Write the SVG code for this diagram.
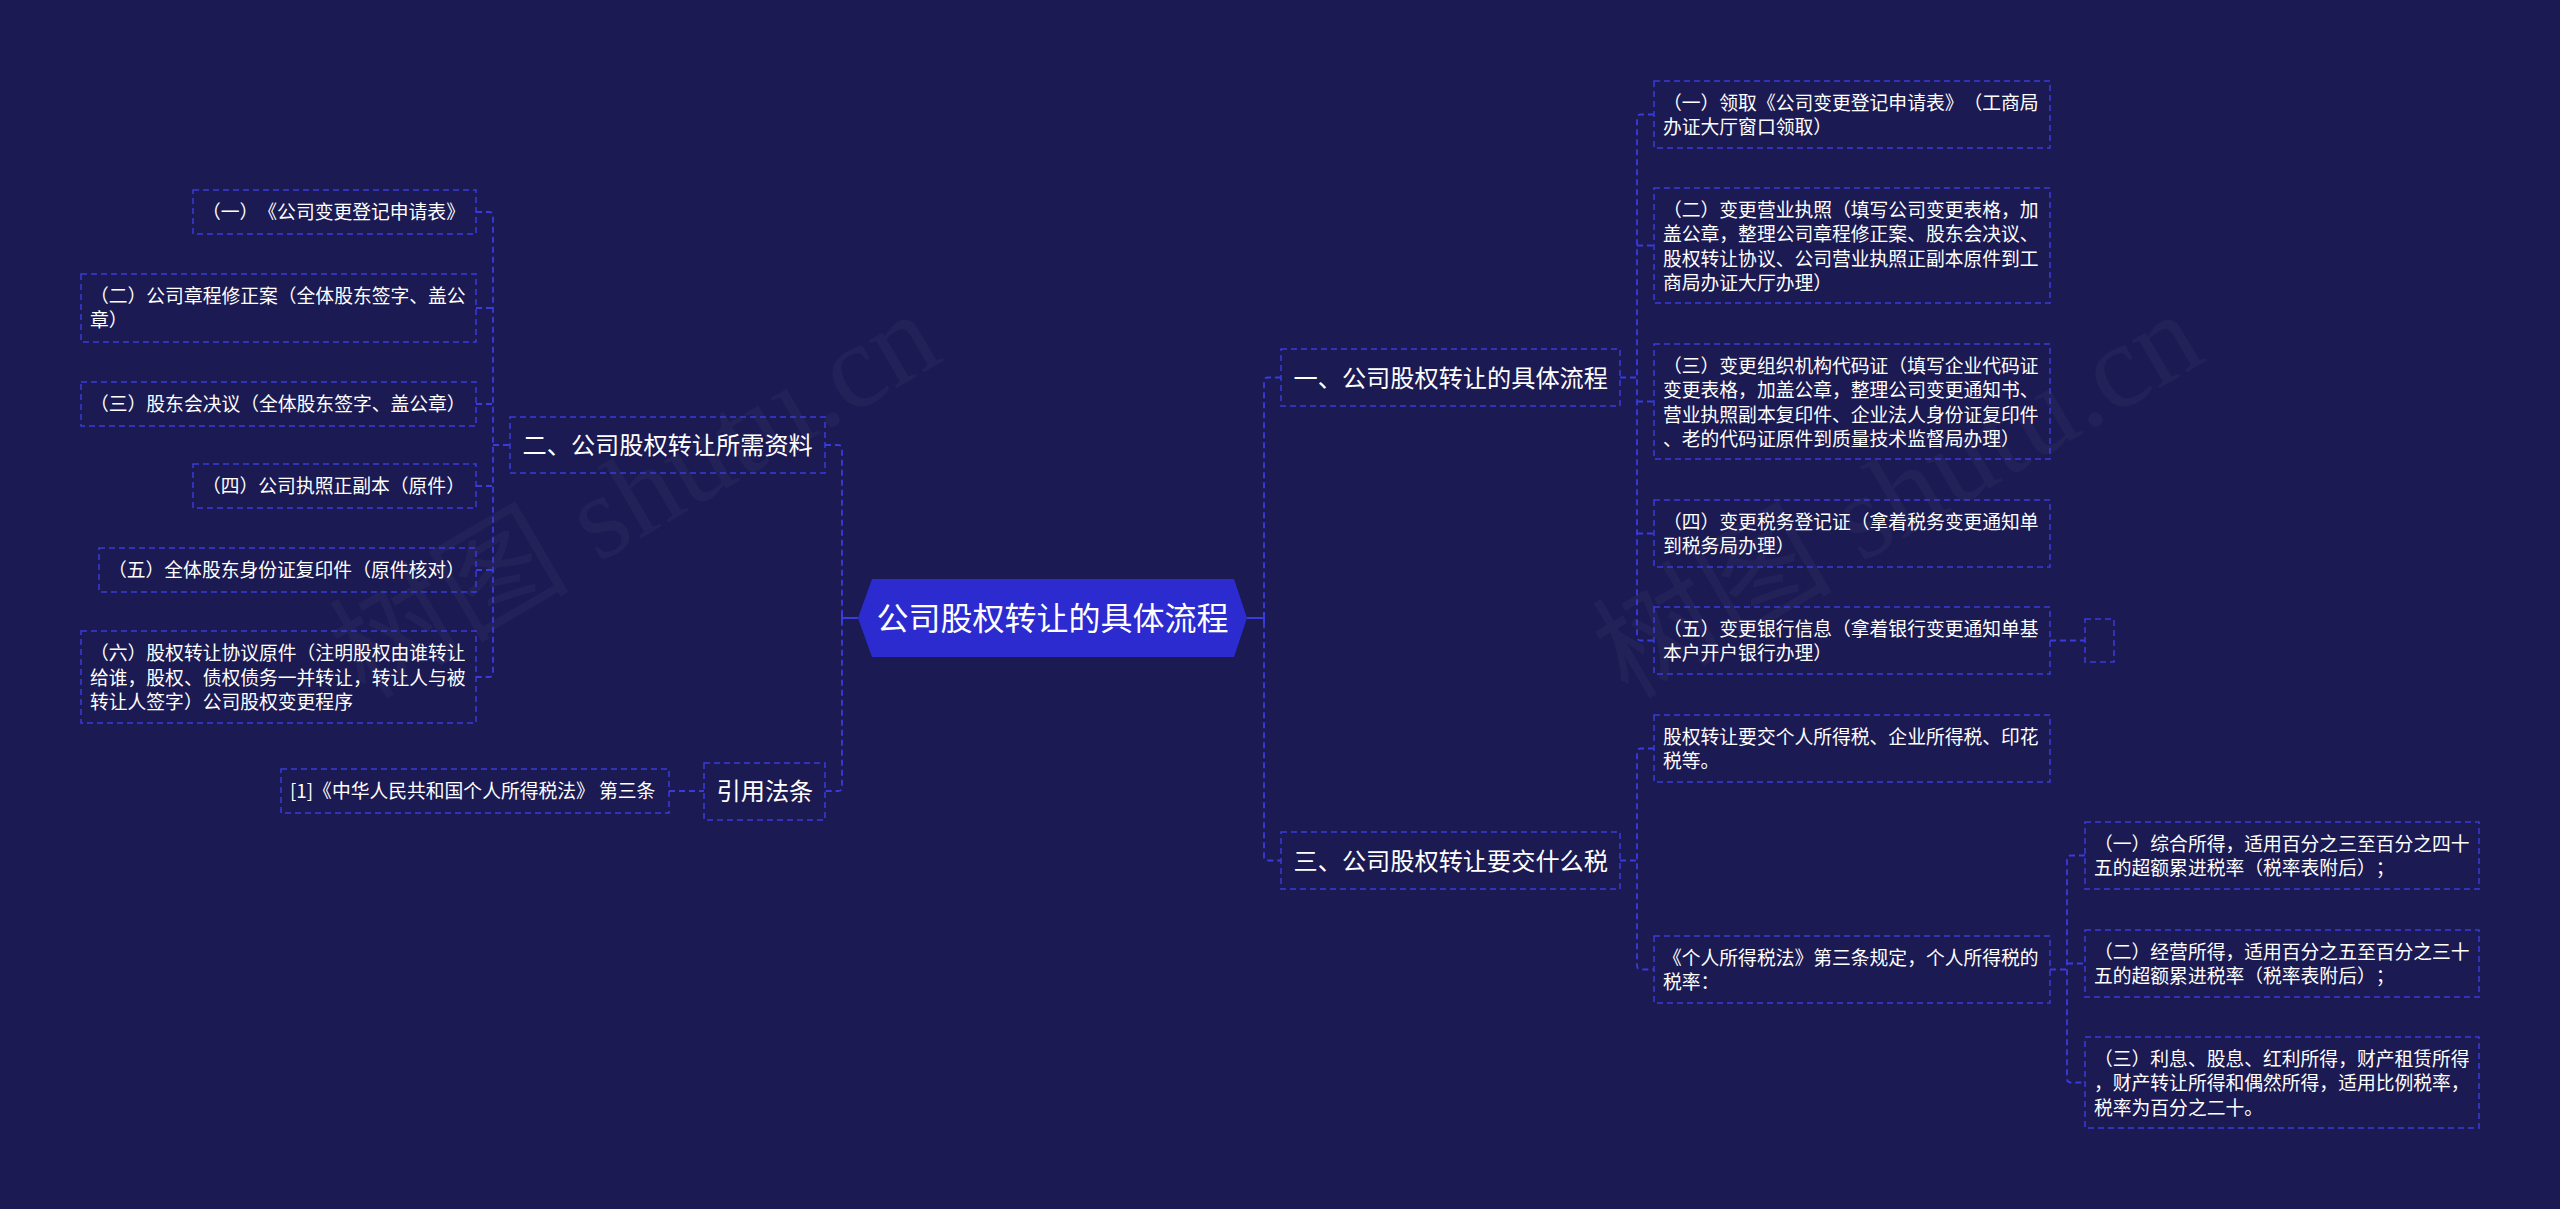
<svg xmlns="http://www.w3.org/2000/svg" width="2560" height="1209" viewBox="0 0 2560 1209">
<defs>
<style>
.bg{fill:#1b1a52}
.box{fill:none;stroke:#3b3bdc;stroke-width:1.5;stroke-dasharray:6 4}
.ln{fill:none;stroke:#3b3bdc;stroke-width:1.8;stroke-dasharray:6 4}
.sl{fill:none;stroke:#3b3bdc;stroke-width:2}
text{text-spacing-trim:space-all;font-feature-settings:"chws" 0,"halt" 0,"palt" 0}
.t{font-family:"Noto Sans CJK SC","Noto Sans",sans-serif;font-size:18.8px;fill:#ffffff}
.m{font-family:"Noto Sans CJK SC","Noto Sans",sans-serif;font-size:24.2px;fill:#ffffff}
.r{font-family:"Noto Sans CJK SC","Noto Sans",sans-serif;font-size:32px;fill:#ffffff}
.wm{font-family:"Liberation Serif","Noto Sans CJK SC",serif;font-size:120px;fill:#ffffff;fill-opacity:0.04}
</style>
</defs>
<rect class="bg" x="0" y="0" width="2560" height="1209"/>
<g id="watermark">
<text class="wm" transform="translate(365,700) rotate(-30.4)">树图 shutu.cn</text>
<text class="wm" transform="translate(1628,700) rotate(-30.4)">树图 shutu.cn</text>
</g>
<g id="connectors">
<path class="ln" d="M476,212 H489 Q493,212 493,216 V673 Q493,677 489,677 H476"/>
<path class="ln" d="M476,308 H493 M476,404 H493 M476,486 H493 M476,570 H493 M493,445 H510"/>
<path class="ln" d="M825,445 H838 Q842,445 842,449 V787 Q842,791 838,791 H825"/>
<path class="ln" d="M669,791 H704"/>
<path class="sl" d="M842,618 H858 M842,612 V624"/>
<path class="ln" d="M1281,377.5 H1268 Q1264,377.5 1264,381.5 V856.5 Q1264,860.5 1268,860.5 H1281"/>
<path class="sl" d="M1247,618 H1264 M1264,612 V624"/>
<path class="ln" d="M1654,114.5 H1641 Q1637,114.5 1637,118.5 V636.5 Q1637,640.5 1641,640.5 H1654"/>
<path class="ln" d="M1637,245.5 H1654 M1637,401.5 H1654 M1637,533.5 H1654 M1620,377.5 H1637"/>
<path class="ln" d="M2050,640.5 H2085"/>
<path class="ln" d="M1654,748.5 H1641 Q1637,748.5 1637,752.5 V965.5 Q1637,969.5 1641,969.5 H1654"/>
<path class="ln" d="M1620,860.5 H1637"/>
<path class="ln" d="M2085,855.5 H2071 Q2067,855.5 2067,859.5 V1078.5 Q2067,1082.5 2071,1082.5 H2085"/>
<path class="ln" d="M2067,963.5 H2085 M2050,969.5 H2067"/>
</g>
<g id="root">
<polygon points="858,618 872,579 1234,579 1247,618 1234,657 872,657" fill="#2b2bd0"/>
<text class="r" x="1052.5" y="630" text-anchor="middle">公司股权转让的具体流程</text>
</g>
<g id="n2">
<rect class="box" x="510" y="417" width="315" height="56"/>
<text class="m" x="522.5" y="454">二、公司股权转让所需资料</text>
</g>
<g id="n2-1">
<rect class="box" x="193" y="190" width="283" height="44"/>
<text class="t" x="202" y="219">（一）《公司变更登记申请表》</text>
</g>
<g id="n2-2">
<rect class="box" x="81" y="274" width="395" height="68"/>
<text class="t" x="90" y="303">（二）公司章程修正案（全体股东签字、盖公</text>
<text class="t" x="90" y="327">章）</text>
</g>
<g id="n2-3">
<rect class="box" x="81" y="382" width="395" height="44"/>
<text class="t" x="90" y="411">（三）股东会决议（全体股东签字、盖公章）</text>
</g>
<g id="n2-4">
<rect class="box" x="193" y="464" width="283" height="44"/>
<text class="t" x="202" y="493">（四）公司执照正副本（原件）</text>
</g>
<g id="n2-5">
<rect class="box" x="99" y="548" width="377" height="44"/>
<text class="t" x="108" y="577">（五）全体股东身份证复印件（原件核对）</text>
</g>
<g id="n2-6">
<rect class="box" x="81" y="631" width="395" height="92"/>
<text class="t" x="90" y="660">（六）股权转让协议原件（注明股权由谁转让</text>
<text class="t" x="90" y="684.5">给谁，股权、债权债务一并转让，转让人与被</text>
<text class="t" x="90" y="709">转让人签字）公司股权变更程序</text>
</g>
<g id="n3">
<rect class="box" x="704" y="763" width="121" height="57"/>
<text class="m" x="716.5" y="800">引用法条</text>
</g>
<g id="n3-1">
<rect class="box" x="281" y="769" width="388" height="44"/>
<text class="t" x="290" y="798">[1]《中华人民共和国个人所得税法》 第三条</text>
</g>
<g id="n1">
<rect class="box" x="1281" y="349" width="339" height="57"/>
<text class="m" x="1293.5" y="386.5">一、公司股权转让的具体流程</text>
</g>
<g id="n1-1">
<rect class="box" x="1654" y="81" width="396" height="67"/>
<text class="t" x="1663" y="109.5">（一）领取《公司变更登记申请表》（工商局</text>
<text class="t" x="1663" y="133.5">办证大厅窗口领取）</text>
</g>
<g id="n1-2">
<rect class="box" x="1654" y="188" width="396" height="115"/>
<text class="t" x="1663" y="216.5">（二）变更营业执照（填写公司变更表格，加</text>
<text class="t" x="1663" y="241">盖公章，整理公司章程修正案、股东会决议、</text>
<text class="t" x="1663" y="265.5">股权转让协议、公司营业执照正副本原件到工</text>
<text class="t" x="1663" y="290">商局办证大厅办理）</text>
</g>
<g id="n1-3">
<rect class="box" x="1654" y="344" width="396" height="115"/>
<text class="t" x="1663" y="372.5">（三）变更组织机构代码证（填写企业代码证</text>
<text class="t" x="1663" y="397">变更表格，加盖公章，整理公司变更通知书、</text>
<text class="t" x="1663" y="421.5">营业执照副本复印件、企业法人身份证复印件</text>
<text class="t" x="1663" y="446">、老的代码证原件到质量技术监督局办理）</text>
</g>
<g id="n1-4">
<rect class="box" x="1654" y="500" width="396" height="67"/>
<text class="t" x="1663" y="528.5">（四）变更税务登记证（拿着税务变更通知单</text>
<text class="t" x="1663" y="552.5">到税务局办理）</text>
</g>
<g id="n1-5">
<rect class="box" x="1654" y="607" width="396" height="67"/>
<text class="t" x="1663" y="635.5">（五）变更银行信息（拿着银行变更通知单基</text>
<text class="t" x="1663" y="659.5">本户开户银行办理）</text>
</g>
<g id="n1-5-1">
<rect class="box" x="2085" y="619" width="29" height="43"/>
</g>
<g id="n4">
<rect class="box" x="1281" y="832" width="339" height="57"/>
<text class="m" x="1293.5" y="869.5">三、公司股权转让要交什么税</text>
</g>
<g id="n4-1">
<rect class="box" x="1654" y="715" width="396" height="67"/>
<text class="t" x="1663" y="743.5">股权转让要交个人所得税、企业所得税、印花</text>
<text class="t" x="1663" y="767.5">税等。</text>
</g>
<g id="n4-2">
<rect class="box" x="1654" y="936" width="396" height="67"/>
<text class="t" x="1663" y="964.5">《个人所得税法》第三条规定，个人所得税的</text>
<text class="t" x="1663" y="988.5">税率：</text>
</g>
<g id="n4-2-1">
<rect class="box" x="2085" y="822" width="394" height="67"/>
<text class="t" x="2094" y="850.5">（一）综合所得，适用百分之三至百分之四十</text>
<text class="t" x="2094" y="874.5">五的超额累进税率（税率表附后）；</text>
</g>
<g id="n4-2-2">
<rect class="box" x="2085" y="930" width="394" height="67"/>
<text class="t" x="2094" y="958.5">（二）经营所得，适用百分之五至百分之三十</text>
<text class="t" x="2094" y="982.5">五的超额累进税率（税率表附后）；</text>
</g>
<g id="n4-2-3">
<rect class="box" x="2085" y="1037" width="394" height="91"/>
<text class="t" x="2094" y="1065.5">（三）利息、股息、红利所得，财产租赁所得</text>
<text class="t" x="2094" y="1090">，财产转让所得和偶然所得，适用比例税率，</text>
<text class="t" x="2094" y="1114.5">税率为百分之二十。</text>
</g>
</svg>
